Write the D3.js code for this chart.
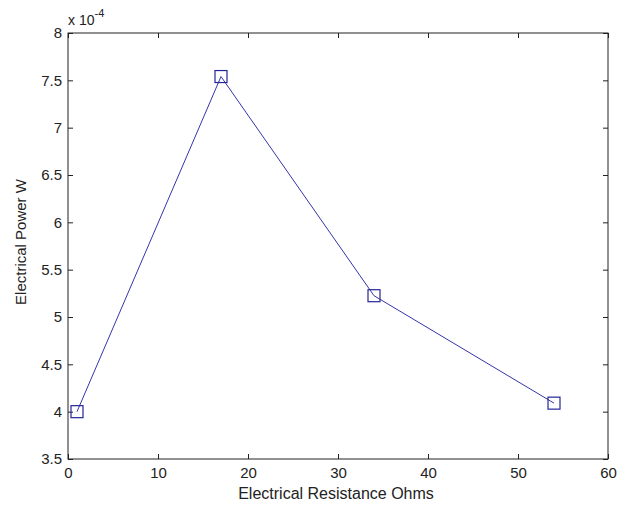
<!DOCTYPE html>
<html><head><meta charset="utf-8">
<script src="https://cdn.jsdelivr.net/npm/d3@7"></script>
<style>body{margin:0;background:#fff}svg{display:block}text{font-family:"Liberation Sans",Arial,sans-serif}</style>
</head><body>
<svg id="c" width="626" height="506"></svg>
<script>
const resistance = [1, 17, 34, 54];
const power = [4.00, 7.54, 5.225, 4.09]; // x 10^-4 W
const xTicks = [0, 10, 20, 30, 40, 50, 60];
const yTicks = [3.5, 4, 4.5, 5, 5.5, 6, 6.5, 7, 7.5, 8];
const xLabel = "Electrical Resistance Ohms";
const yLabel = "Electrical Power W";

const svg = d3.select("#c");
const L = 68, R = 608, T = 33, B = 459;
const x = d3.scaleLinear().domain([0, 60]).range([L, R]);
const y = d3.scaleLinear().domain([3.5, 8]).range([B, T]);
const ink = "#222";
const g = svg.append("g");
const fmt = d => String(d);

function styleAxis(sel){
  sel.select(".domain").remove();
  sel.selectAll(".tick line").attr("stroke", ink);
  sel.selectAll(".tick text").attr("fill", ink).style("font-size", "15px");
}
g.append("g").attr("transform", `translate(0,${B})`)
  .call(d3.axisBottom(x).tickValues(xTicks).tickFormat(fmt).tickSizeInner(-5).tickSizeOuter(0).tickPadding(8))
  .call(styleAxis);
g.append("g").attr("transform", `translate(0,${T})`)
  .call(d3.axisTop(x).tickValues(xTicks).tickFormat("").tickSizeInner(-5).tickSizeOuter(0))
  .call(styleAxis);
g.append("g").attr("transform", `translate(${L},0)`)
  .call(d3.axisLeft(y).tickValues(yTicks).tickFormat(fmt).tickSizeInner(-5).tickSizeOuter(0).tickPadding(6))
  .call(styleAxis);
g.append("g").attr("transform", `translate(${R},0)`)
  .call(d3.axisRight(y).tickValues(yTicks).tickFormat("").tickSizeInner(-5).tickSizeOuter(0))
  .call(styleAxis);

g.append("rect").attr("x", L).attr("y", T).attr("width", R - L).attr("height", B - T)
  .attr("fill", "none").attr("stroke", ink).attr("stroke-width", 1);

const pts = resistance.map((r, i) => [r, power[i]]);
g.append("path").datum(pts)
  .attr("d", d3.line().x(d => x(d[0])).y(d => y(d[1])))
  .attr("fill", "none").attr("stroke", "#3535a8").attr("stroke-width", 1);
g.selectAll(".m").data(pts).join("rect")
  .attr("x", d => x(d[0]) - 6).attr("y", d => y(d[1]) - 6)
  .attr("width", 12).attr("height", 12)
  .attr("fill", "none").attr("stroke", "#25259a").attr("stroke-width", 1.2);

svg.append("text").attr("x", 336).attr("y", 499).attr("text-anchor", "middle")
  .attr("fill", ink).style("font-size", "16px").text(xLabel);
svg.append("text").attr("transform", "translate(26,242) rotate(-90)").attr("text-anchor", "middle")
  .attr("fill", ink).style("font-size", "15px").text(yLabel);
const ex = svg.append("text").attr("x", 68).attr("y", 25).attr("fill", ink).style("font-size", "14px");
ex.append("tspan").text("x 10");
ex.append("tspan").attr("dy", -8).style("font-size", "11px").text("-4");
</script>
</body></html>
